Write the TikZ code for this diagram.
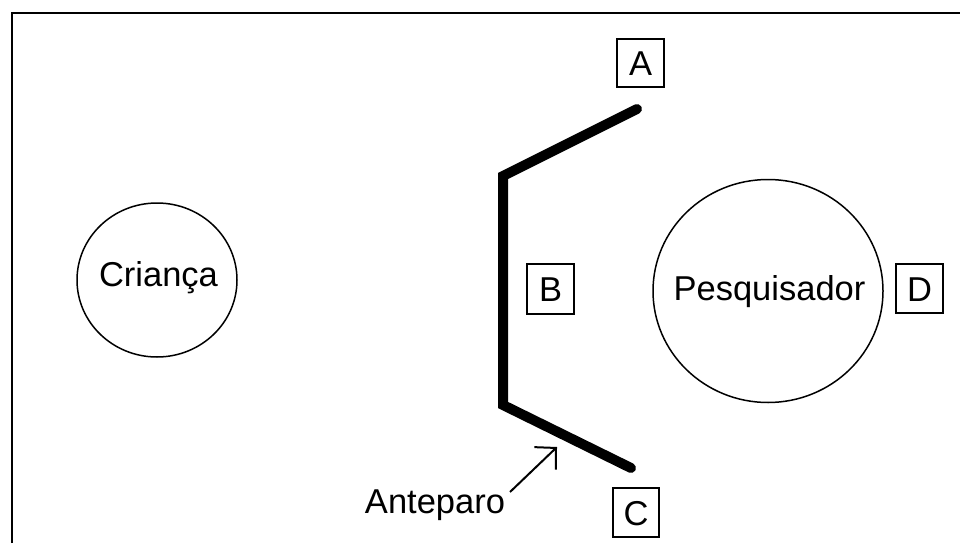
\documentclass[tikz,border=0pt]{standalone}
\usepackage{fontspec}
\setmainfont{Liberation Sans}
\usetikzlibrary{arrows.meta,shapes.geometric}
\begin{document}
\begin{tikzpicture}[x=1pt,y=-1pt,
  lbl/.style={inner sep=0pt,font=\fontsize{34.5}{41}\selectfont,text height=25pt,text depth=0pt},
  ring/.style={draw,ellipse,line width=1.5pt,inner sep=0pt},
  tag/.style={draw,line width=1.6pt,inner sep=0pt,minimum width=46pt,minimum height=49pt,
    font=\fontsize{34.5}{41}\selectfont,text height=25pt,text depth=0pt},
  screen/.style={line width=10pt,line cap=round,line join=miter},
  pointer/.style={line width=2pt,-{Straight Barb[length=15pt,width=31pt,line width=2pt]}}]
\useasboundingbox (0,0) rectangle (960,543);
\fill[white] (0,0) rectangle (960,543);

% outer frame (only left and top edges fall inside the page)
\draw[line width=2.5pt] (12,543) -- (12,13) -- (960,13);

% child and researcher
\node[ring,minimum width=160pt,minimum height=154pt] (crianca) at (157,280) {};
\node[lbl] (tcrianca) at (158.5,274) {Criança};
\node[ring,minimum width=230pt,minimum height=223pt] (pesq) at (768,291) {};
\node[lbl] (tpesq) at (769.5,288) {Pesquisador};

% the screen
\coordinate (sA) at (637,109);
\coordinate (sT) at (503,176);
\coordinate (sB) at (503,405);
\coordinate (sC) at (631,468);
\draw[screen] (sA) -- (sT) -- (sB) -- (sC);

% position tags
\node[tag,minimum width=47pt,minimum height=48pt] (A) at (640.5,63) {A};
\node[tag,minimum width=47pt,minimum height=50pt] (B) at (550.5,289) {B};
\node[tag] (C) at (636,512.5) {C};
\node[tag,minimum width=47pt] (D) at (919.5,288.5) {D};

% screen label
\node[lbl] (ant) at (435,500.5) {Anteparo};
\coordinate (arrS) at (510,492);
\coordinate (arrE) at (557,447);
\draw[pointer] (arrS) -- (arrE);
\end{tikzpicture}
\end{document}
